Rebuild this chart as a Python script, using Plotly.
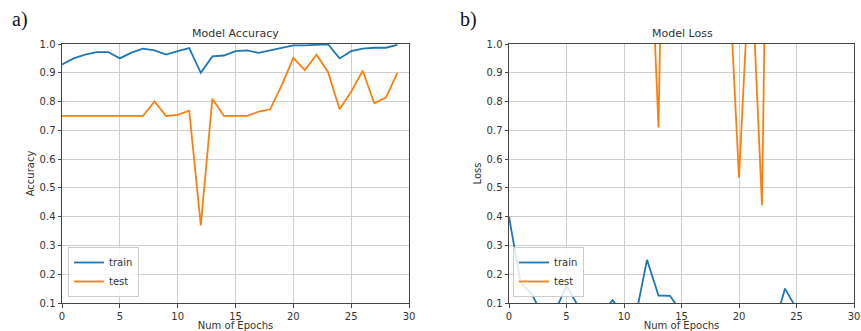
import plotly.graph_objects as go

epochs = list(range(30))

acc_train = [0.929, 0.950, 0.963, 0.972, 0.972, 0.950, 0.970, 0.984, 0.978, 0.963,
             0.975, 0.986, 0.900, 0.957, 0.960, 0.975, 0.978, 0.969, 0.978, 0.986,
             0.995, 0.995, 0.997, 0.999, 0.950, 0.975, 0.984, 0.987, 0.987, 0.997]
acc_test = [0.75, 0.75, 0.75, 0.75, 0.75, 0.75, 0.75, 0.75, 0.80, 0.75,
            0.754, 0.768, 0.370, 0.81, 0.75, 0.75, 0.75, 0.765, 0.773, 0.857,
            0.952, 0.909, 0.963, 0.903, 0.773, 0.834, 0.907, 0.794, 0.814, 0.900]

loss_train = [0.40, 0.172, 0.13, 0.05, 0.07, 0.16, 0.09, 0.06, 0.06, 0.11,
              0.06, 0.05, 0.25, 0.126, 0.125, 0.067, 0.05, 0.04, 0.04, 0.03,
              0.03, 0.02, 0.02, 0.01, 0.15, 0.08, 0.04, 0.03, 0.03, 0.02]
loss_test = [1.80, 1.70, 1.75, 1.80, 1.90, 1.85, 1.95, 2.00, 1.70, 2.10,
             2.20, 2.00, 1.68, 0.71, 2.94, 2.50, 2.60, 2.40, 2.30, 1.34,
             0.535, 1.337, 0.44, 3.24, 3.50, 3.00, 2.60, 3.20, 3.10, 2.80]

y_ticks = [0.1, 0.2, 0.3, 0.4, 0.5, 0.6, 0.7, 0.8, 0.9, 1.0]
x_ticks = [0, 5, 10, 15, 20, 25, 30]

BLUE = "#1f77b4"
ORANGE = "#ff7f0e"
FONT = "DejaVu Sans"

W, H = 861, 331
ML, MR, MT, MB = 62, 7, 44, 28
PW = W - ML - MR
PH = H - MT - MB

def px(x):
    return (x - ML) / PW

def py(y):
    return (H - MB - y) / PH

fig = go.Figure()
fig.add_trace(go.Scatter(x=epochs, y=acc_train, mode="lines", name="train",
                         line=dict(color=BLUE, width=1.8), xaxis="x", yaxis="y", legend="legend"))
fig.add_trace(go.Scatter(x=epochs, y=acc_test, mode="lines", name="test",
                         line=dict(color=ORANGE, width=1.8), xaxis="x", yaxis="y", legend="legend"))
fig.add_trace(go.Scatter(x=epochs, y=loss_train, mode="lines", name="train",
                         line=dict(color=BLUE, width=1.8), xaxis="x2", yaxis="y2", legend="legend2"))
fig.add_trace(go.Scatter(x=epochs, y=loss_test, mode="lines", name="test",
                         line=dict(color=ORANGE, width=1.8), xaxis="x2", yaxis="y2", legend="legend2"))

axis_common = dict(showgrid=True, gridcolor="#cfcfcf", gridwidth=1, showline=True,
                   linecolor="#444", linewidth=1, mirror=True, ticks="outside", ticklen=3.5,
                   tickcolor="#444", tickfont=dict(family=FONT, size=10, color="#333"),
                   zeroline=False, automargin=False,
                   title_font=dict(family=FONT, size=10, color="#333"))

xa = dict(axis_common, range=[0, 30], tickvals=x_ticks, title_text="Num of Epochs", title_standoff=11)
ya = dict(axis_common, range=[0.1, 1.0], tickvals=y_ticks, tickformat=".1f", title_standoff=3)

leg_common = dict(xanchor="left", yanchor="bottom",
                  bgcolor="rgba(255,255,255,0.85)", bordercolor="#cccccc", borderwidth=1,
                  font=dict(family=FONT, size=10, color="#333"), tracegroupgap=0,
                  itemwidth=30)

fig.update_layout(
    width=W, height=H,
    margin=dict(l=ML, r=MR, t=MT, b=MB, autoexpand=False),
    plot_bgcolor="white", paper_bgcolor="white",
    xaxis=dict(xa, domain=[0, px(409)], anchor="y"),
    yaxis=dict(ya, domain=[0, 1], anchor="x", title_text="Accuracy"),
    xaxis2=dict(xa, domain=[px(509), 1], anchor="y2"),
    yaxis2=dict(ya, domain=[0, 1], anchor="x2", title_text="Loss"),
    legend=dict(leg_common, x=px(68), y=py(297)),
    legend2=dict(leg_common, x=px(513), y=py(297)),
    showlegend=True,
    annotations=[
        dict(text="Model Accuracy", x=px(235), y=py(33), xref="paper", yref="paper",
             xanchor="center", yanchor="middle",
             showarrow=False, font=dict(family=FONT, size=11, color="#333")),
        dict(text="Model Loss", x=px(682), y=py(33), xref="paper", yref="paper",
             xanchor="center", yanchor="middle",
             showarrow=False, font=dict(family=FONT, size=11, color="#333")),
        dict(text="a)", x=px(20), y=py(20), xref="paper", yref="paper",
             xanchor="center", yanchor="middle",
             showarrow=False, font=dict(family="Liberation Serif", size=20, color="#111")),
        dict(text="b)", x=px(468), y=py(20), xref="paper", yref="paper",
             xanchor="center", yanchor="middle",
             showarrow=False, font=dict(family="Liberation Serif", size=20, color="#111")),
    ],
)

fig.write_html("out.html")
